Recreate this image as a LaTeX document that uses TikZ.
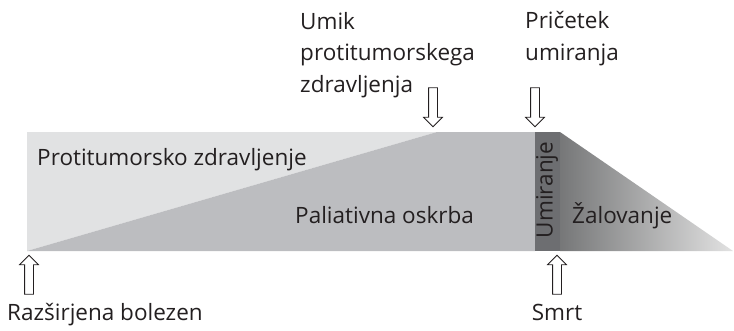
\documentclass[tikz,border=0pt]{standalone}
\usepackage{fontspec}
\setmainfont{Open Sans}
\usetikzlibrary{shapes.arrows}

\definecolor{treatgray}{HTML}{E1E2E3}
\definecolor{caregray}{HTML}{BCBDC0}
\definecolor{dyinggray}{HTML}{6D6E71}
\definecolor{griefdark}{HTML}{767778}
\definecolor{grieflight}{HTML}{E2E2E2}
\definecolor{inkgray}{HTML}{231F20}

\begin{document}
\begin{tikzpicture}[x=0.03cm,y=-0.03cm]
\tikzset{txt/.style={inner sep=0pt,text=inkgray,font=\fontsize{19.2}{26.5}\selectfont},
  hollowarrow/.style={draw=inkgray,line width=0.7pt,single arrow,inner sep=0.12cm,
    minimum height=1.17cm,minimum width=0.54cm,single arrow head extend=0.15cm,
    single arrow head indent=0cm}};
\useasboundingbox (0,0) rectangle (734,330);

% trak
\fill[treatgray] (27,132) -- (437,132) -- (27,251) -- cycle;
\fill[caregray] (27,251) -- (437,132) -- (535,132) -- (535,251) -- cycle;
\fill[dyinggray] (535,132) rectangle (560,251);
\shade[left color=griefdark,right color=grieflight] (560,132) -- (733,251) -- (560,251) -- cycle;

% napisi v traku
\node[txt,anchor=base west] (treat) at (37,165) {Protitumorsko zdravljenje};
\node[txt,anchor=base west] (care) at (295,223) {Paliativna oskrba};
\node[txt,rotate=90] (dying) at (547,190) {Umiranje};
\node[txt,anchor=base west] (grief) at (572,223) {Žalovanje};

% puscice
\node[hollowarrow,shape border rotate=270] (stoparrow) at (433,105) {};
\node[hollowarrow,shape border rotate=270] (startarrow) at (535,105) {};
\node[hollowarrow,shape border rotate=90] (diseasearrow) at (29,277) {};
\node[hollowarrow,shape border rotate=90] (deatharrow) at (557,277) {};

% oznake
\node[txt,anchor=base west,align=left] (stop) at (300,92) {Umik\\protitumorskega\\zdravljenja};
\node[txt,anchor=base west,align=left] (start) at (525,60) {Pričetek\\umiranja};
\node[txt,anchor=base west] (disease) at (7,320) {Razširjena bolezen};
\node[txt,anchor=base] (death) at (557,320) {Smrt};
\end{tikzpicture}
\end{document}
